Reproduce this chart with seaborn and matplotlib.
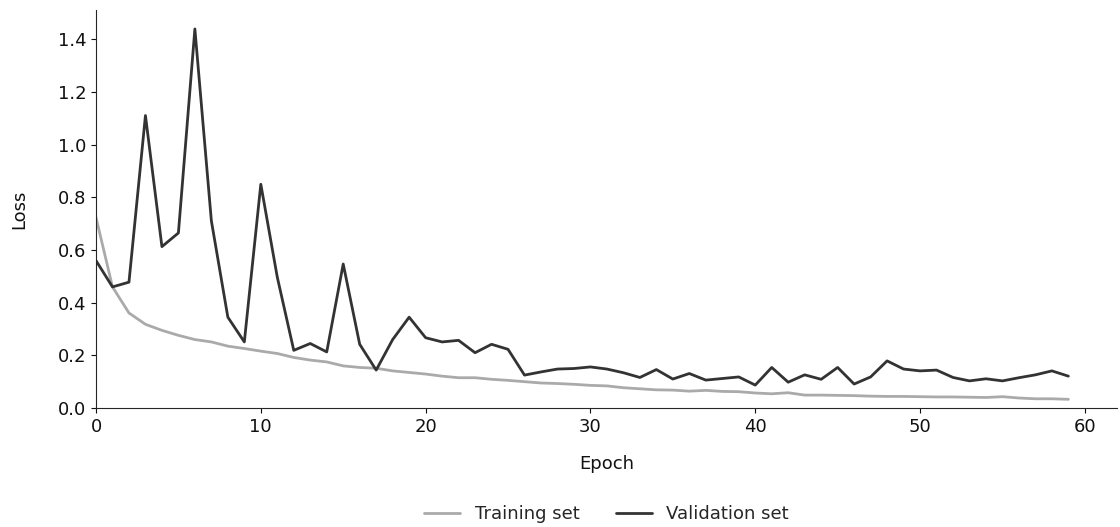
import numpy as np
import pandas as pd
import matplotlib
matplotlib.use("Agg")
import matplotlib.pyplot as plt
import seaborn as sns

# Loss values per epoch
epochs = list(range(60))
train_loss = [0.724, 0.46, 0.361, 0.318, 0.295, 0.276, 0.26, 0.251, 0.235, 0.226,
              0.216, 0.207, 0.192, 0.182, 0.175, 0.16, 0.154, 0.151, 0.141, 0.135,
              0.129, 0.121, 0.115, 0.115, 0.109, 0.105, 0.1, 0.095, 0.093, 0.09,
              0.086, 0.084, 0.077, 0.073, 0.069, 0.068, 0.064, 0.067, 0.063, 0.062,
              0.057, 0.054, 0.058, 0.049, 0.049, 0.048, 0.047, 0.045, 0.044, 0.044,
              0.043, 0.042, 0.042, 0.041, 0.04, 0.043, 0.038, 0.035, 0.035, 0.033]
val_loss = [0.56, 0.46, 0.478, 1.111, 0.613, 0.665, 1.44, 0.711, 0.345, 0.251,
            0.85, 0.497, 0.219, 0.245, 0.213, 0.547, 0.242, 0.144, 0.26, 0.345,
            0.267, 0.251, 0.257, 0.21, 0.242, 0.223, 0.125, 0.137, 0.148, 0.15,
            0.156, 0.148, 0.134, 0.116, 0.146, 0.11, 0.131, 0.106, 0.112, 0.118,
            0.087, 0.154, 0.098, 0.126, 0.109, 0.154, 0.091, 0.118, 0.179, 0.148,
            0.141, 0.144, 0.116, 0.103, 0.111, 0.103, 0.115, 0.126, 0.141, 0.121]

df = pd.DataFrame({
    'Epoch': epochs * 2,
    'Loss': train_loss + val_loss,
    'Set': ['Training set'] * 60 + ['Validation set'] * 60,
})

sns.set_style("ticks")
plt.rcParams['font.family'] = ['DejaVu Sans']

fig = plt.figure(figsize=(11.2, 5.27), dpi=100)
ax = fig.add_axes([96 / 1120, 1 - 408 / 527, (1117 - 96) / 1120, (408 - 10) / 527])

sns.lineplot(data=df, x='Epoch', y='Loss', hue='Set',
             palette={'Training set': '#aaaaaa', 'Validation set': '#333333'},
             linewidth=2, ax=ax)

ax.set_xlim(0, 61.95)
ax.set_ylim(0, 1.512)
ax.set_yticks(np.arange(0, 1.41, 0.2))
ax.tick_params(labelsize=13, colors='#111111')
ax.set_xlabel('Epoch', fontsize=13, labelpad=14, color='#111111')
ax.set_ylabel('Loss', fontsize=13, labelpad=21, color='#111111')
sns.despine(ax=ax)

ax.legend(loc='upper center', bbox_to_anchor=(0.5, -0.203), ncol=2, frameon=False,
          fontsize=13)

fig.savefig('out.png', dpi=100)
